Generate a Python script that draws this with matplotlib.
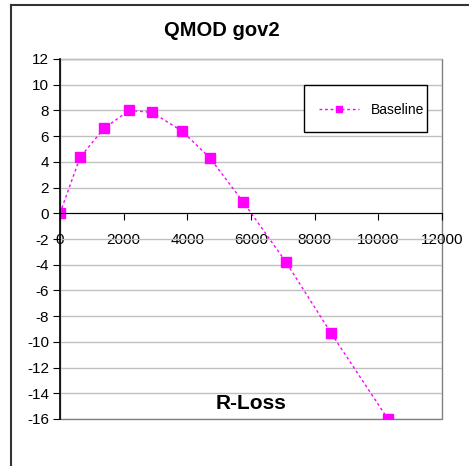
import matplotlib
matplotlib.use('Agg')
import matplotlib.pyplot as plt
from matplotlib.lines import Line2D
from matplotlib.patches import Rectangle

plt.rcParams['font.family'] = ['Liberation Sans', 'DejaVu Sans']
plt.rcParams['axes.unicode_minus'] = False

# R-Loss vs gain for the baseline run
r_loss = [0, 630, 1380, 2170, 2890, 3830, 4710, 5750, 7100, 8510, 10300]
gain = [0.0, 4.35, 6.6, 8.0, 7.85, 6.4, 4.3, 0.9, -3.8, -9.3, -16.0]

x_ticks = [0, 2000, 4000, 6000, 8000, 10000, 12000]
y_ticks = list(range(-16, 13, 2))

W, H = 469, 466
fig = plt.figure(figsize=(W / 100, H / 100), dpi=100)
ax = fig.add_axes([60 / W, (H - 419) / H, (442 - 60) / W, (419 - 59) / H])

ax.plot(r_loss, gain, color='#ff00ff', linestyle=(0, (2, 2)), linewidth=1,
        marker='s', markersize=7.5, label='Baseline')

ax.set_xlim(0, 12000)
ax.set_ylim(-16, 12)
ax.set_xticks(x_ticks)
ax.set_yticks(y_ticks)
ax.grid(axis='y', color='#c0c0c0', linewidth=1)
ax.set_axisbelow(True)

for s in ['top', 'right']:
    ax.spines[s].set_visible(False)
ax.spines['bottom'].set_position(('data', 0))
ax.spines['bottom'].set_color('black')
ax.spines['left'].set_color('black')
ax.spines['left'].set_linewidth(1.2)

# gray plot-area border
ax.add_patch(Rectangle((0, 0), 1, 1, transform=ax.transAxes, fill=False,
                       edgecolor='#808080', linewidth=1, zorder=0.5,
                       clip_on=False))

ax.tick_params(axis='x', direction='out', length=5, pad=9, labelsize=11)
ax.tick_params(axis='y', direction='out', length=5, pad=3, labelsize=11)

ax.text(0.5, 0.042, 'R-Loss', transform=ax.transAxes, ha='center',
        va='center', fontsize=15, fontweight='bold')
fig.text(222 / W, 1 - 30 / H, 'QMOD gov2', ha='center', va='center',
         fontsize=14.5, fontweight='bold')

# legend box
ax.add_patch(Rectangle(((304 - 60) / 382, (419 - 132) / 360), 123 / 382, 47 / 360,
                       transform=ax.transAxes, facecolor='white',
                       edgecolor='black', linewidth=1, zorder=4))
ax.legend(loc='center left', bbox_to_anchor=((319 - 60) / 382, (419 - 110) / 360),
          frameon=False, fontsize=10, borderpad=0, borderaxespad=0,
          handlelength=2.9, handletextpad=0.8, markerscale=0.65).set_zorder(5)

# chart border (left and top edges visible)
fig.add_artist(Line2D([11 / W, 11 / W], [0, 1 - 5 / H], color='#333333', linewidth=1.5))
fig.add_artist(Line2D([11 / W, 1], [1 - 5 / H, 1 - 5 / H], color='#333333', linewidth=1.5))

fig.savefig('out.png', dpi=100)
